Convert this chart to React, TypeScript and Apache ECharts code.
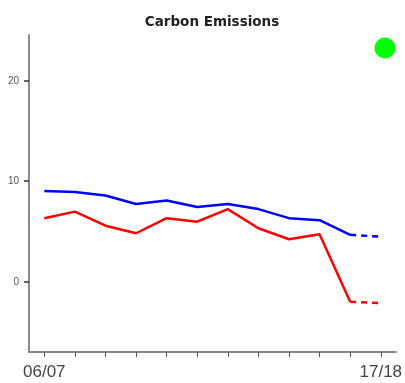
import React, { useEffect, useRef } from "react";
import * as echarts from "echarts";

const categories = ["06/07", "07/08", "08/09", "09/10", "10/11", "11/12", "12/13", "13/14", "14/15", "15/16", "16/17", "17/18"];
const blueActual = [9.0, 8.9, 8.55, 7.7, 8.05, 7.4, 7.7, 7.2, 6.3, 6.1, 4.65, null];
const blueProjected = [null, null, null, null, null, null, null, null, null, null, 4.65, 4.45];
const redActual = [6.3, 6.95, 5.55, 4.8, 6.3, 5.95, 7.2, 5.3, 4.2, 4.7, -2.0, null];
const redProjected = [null, null, null, null, null, null, null, null, null, null, -2.0, -2.15];
const yTicks = [0, 10, 20];
const titleText = "Carbon Emissions";

export default function App() {
  const ref = useRef<HTMLDivElement>(null);
  useEffect(() => {
    if (!ref.current) return;
    const chart = echarts.init(ref.current, null, { renderer: "svg" });
    const axisGray = "#8a8a8a";
    chart.setOption({
      animation: false,
      title: {
        text: titleText,
        left: 207,
        top: 9,
        textAlign: "center",
        textStyle: { fontFamily: "DejaVu Sans, sans-serif", fontWeight: "bold", fontSize: 13.5, color: "#222" },
      },
      grid: { left: 29, right: 8, top: 35, bottom: 31, containLabel: false },
      xAxis: {
        type: "category",
        data: categories,
        boundaryGap: true,
        axisLine: { show: true, onZero: false, lineStyle: { color: axisGray, width: 2 } },
        axisTick: { show: true, alignWithLabel: true, interval: 0, length: 5, lineStyle: { color: "#555", width: 1 } },
        axisLabel: {
          interval: (i: number) => i === 0 || i === categories.length - 1,
          fontFamily: "Liberation Sans, Arial, sans-serif",
          fontSize: 17,
          color: "#444",
          margin: 11,
        },
        splitLine: { show: false },
      },
      yAxis: {
        type: "value",
        min: -7,
        max: 24.5,
        axisLine: { show: true, lineStyle: { color: axisGray, width: 2 } },
        axisTick: { show: true, inside: false, length: 5, customValues: yTicks, lineStyle: { color: "#333", width: 1.5 } },
        axisLabel: {
          customValues: yTicks,
          fontFamily: "Liberation Sans, Arial, sans-serif",
          fontSize: 10,
          color: "#555",
          margin: 10,
        },
        splitLine: { show: false },
      },
      graphic: [
        { type: "circle", shape: { cx: 385, cy: 48, r: 10.5 }, style: { fill: "#00ff00" } },
      ],
      series: [
        { type: "line", data: blueActual, symbol: "none", lineStyle: { color: "#0000ff", width: 2.5 }, itemStyle: { color: "#0000ff" } },
        { type: "line", data: blueProjected, symbol: "none", lineStyle: { color: "#0000ff", width: 2.5, type: [6, 5] }, itemStyle: { color: "#0000ff" } },
        { type: "line", data: redActual, symbol: "none", lineStyle: { color: "#ff0000", width: 2.5 }, itemStyle: { color: "#ff0000" } },
        { type: "line", data: redProjected, symbol: "none", lineStyle: { color: "#ff0000", width: 2.5, type: [6, 5] }, itemStyle: { color: "#ff0000" } },
      ],
    });
    return () => chart.dispose();
  }, []);
  return <div ref={ref} style={{ position: "fixed", left: 0, top: 0, width: 405, height: 383 }} />;
}
